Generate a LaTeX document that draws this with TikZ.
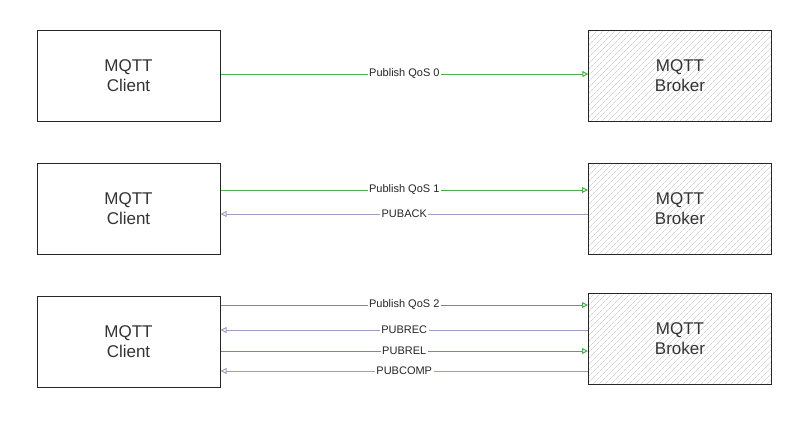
\documentclass[tikz,border=0pt]{standalone}
\usepackage{fontspec}
\setmainfont{Liberation Sans}
\usetikzlibrary{arrows.meta,patterns.meta}
\begin{document}
\begin{tikzpicture}[x=1pt,y=-1pt,
 box/.style={draw=black!85,line width=1pt,minimum width=183pt,minimum height=91pt,align=center,font=\fontsize{17}{20}\selectfont,text=black!80},
 broker/.style={box,pattern={Lines[angle=45,distance=4pt,line width=0.4pt]},pattern color=black!25},
 g/.style={draw=green!55!black!70,line width=1pt,-{Triangle[open,length=6pt,width=6pt]}},
 b/.style={draw=blue!25!gray!60,line width=1pt,-{Triangle[open,length=6pt,width=6pt]}},
 lab/.style={fill=white,inner sep=1.5pt,font=\fontsize{11}{13}\selectfont,text=black!85}]
\useasboundingbox (0,0) rectangle (800,421);
\node[box] (c1) at (128.5,75.5) {MQTT\\Client};
\node[box] (c2) at (128.5,208.5) {MQTT\\Client};
\node[box] (c3) at (128.5,341.5) {MQTT\\Client};
\node[broker] (b1) at (680,75.5) {MQTT\\Broker};
\node[broker] (b2) at (680,208.5) {MQTT\\Broker};
\node[broker] (b3) at (680,339) {MQTT\\Broker};
\coordinate (l1) at (c1.east |- 0,74); \coordinate (r1) at (b1.west |- 0,74);
\coordinate (l2) at (c2.east |- 0,190); \coordinate (r2) at (b2.west |- 0,190);
\coordinate (l3) at (c2.east |- 0,214); \coordinate (r3) at (b2.west |- 0,214);
\coordinate (l4) at (c3.east |- 0,305); \coordinate (r4) at (b3.west |- 0,305);
\coordinate (l5) at (c3.east |- 0,330); \coordinate (r5) at (b3.west |- 0,330);
\coordinate (l6) at (c3.east |- 0,351); \coordinate (r6) at (b3.west |- 0,351);
\coordinate (l7) at (c3.east |- 0,371); \coordinate (r7) at (b3.west |- 0,371);
\draw[g] (l1) -- node[lab]{Publish QoS 0} (r1);
\draw[g] (l2) -- node[lab]{Publish QoS 1} (r2);
\draw[b] (r3) -- node[lab]{PUBACK} (l3);
\draw[g] (l4) -- node[lab]{Publish QoS 2} (r4);
\draw[b] (r5) -- node[lab]{PUBREC} (l5);
\draw[g] (l6) -- node[lab]{PUBREL} (r6);
\draw[b] (r7) -- node[lab]{PUBCOMP} (l7);
\end{tikzpicture}
\end{document}
